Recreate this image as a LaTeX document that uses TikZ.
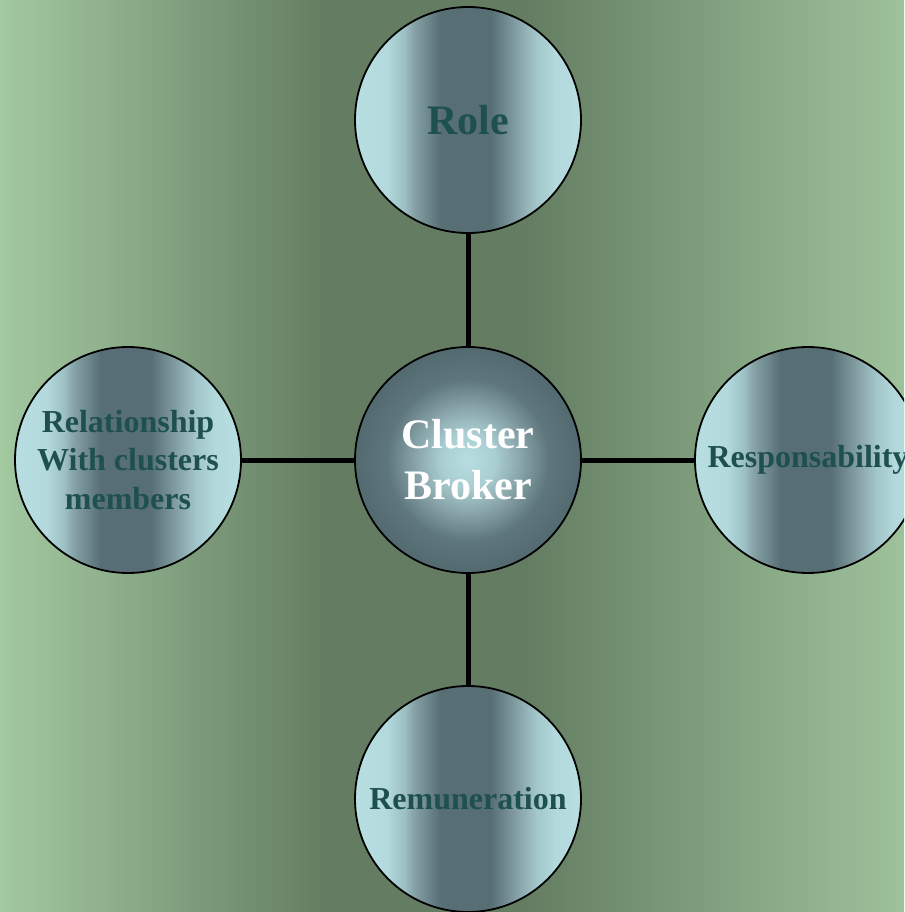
\documentclass[tikz,border=0pt]{standalone}
\usepackage{fontspec}
\setmainfont{Liberation Serif}
\definecolor{bgL}{HTML}{A3C9A1}
\definecolor{bgD}{HTML}{647D62}
\definecolor{bgR}{HTML}{9EC29C}
\definecolor{cyL}{HTML}{B7DEE1}
\definecolor{cyM}{HTML}{86A2A7}
\definecolor{cyD}{HTML}{566E74}
\definecolor{txt}{HTML}{1F5050}
% background: light at both sides, dark band slightly left of centre
\pgfdeclarehorizontalshading{bgshade}{100bp}{color(0bp)=(bgL); color(25bp)=(bgL);
  color(43bp)=(bgD); color(54bp)=(bgD); color(75bp)=(bgR); color(100bp)=(bgR)}
% satellite discs: pale rims with a dark vertical band
\pgfdeclarehorizontalshading{discshade}{100bp}{color(0bp)=(cyL); color(25bp)=(cyL);
  color(32bp)=(cyL!96!cyD); color(36bp)=(cyL!72!cyD); color(38bp)=(cyM);
  color(44bp)=(cyD); color(55bp)=(cyD); color(61bp)=(cyM); color(65bp)=(cyL!78!cyD);
  color(69bp)=(cyL!95!cyD); color(75bp)=(cyL); color(100bp)=(cyL)}
% central disc: pale glow fading to slate
\pgfdeclareradialshading{hubshade}{\pgfpoint{0bp}{0bp}}{color(0bp)=(cyL!100!white);
  color(6bp)=(cyL!86!cyD); color(12bp)=(cyM); color(18bp)=(cyD!85!cyM);
  color(25bp)=(cyD!96!black); color(50bp)=(cyD)}
\tikzset{
  disc/.style={circle, draw=black, line width=1.8pt, minimum size=226pt, inner sep=0pt,
    shading=discshade, text=txt, align=center, font=\bfseries\fontsize{32}{38.4}\selectfont},
  hub/.style={circle, draw=black, line width=1.8pt, minimum size=226pt, inner sep=0pt,
    shading=hubshade, text=white, align=center, font=\bfseries\fontsize{42}{51}\selectfont},
  spoke/.style={line width=5pt, black}
}
\begin{document}
\begin{tikzpicture}[x=1pt,y=-1pt]
  \useasboundingbox (0,0) rectangle (904,912);
  \clip (0,0) rectangle (904,912);
  \shade[shading=bgshade] (0,0) rectangle (904,912);
  \node[hub] (hub) at (468,460) {Cluster\\Broker};
  \node[disc, font=\bfseries\fontsize{42}{50}\selectfont] (role) at (468,120) {Role};
  \node[disc] (resp) at (808,460) {Responsability};
  \node[disc] (rel) at (128,460) {Relationship\\With clusters\\members};
  \node[disc] (rem) at (468,799) {Remuneration};
  \draw[spoke] (hub) -- (role);
  \draw[spoke] (hub) -- (resp);
  \draw[spoke] (hub) -- (rel);
  \draw[spoke] (hub) -- (rem);
\end{tikzpicture}
\end{document}
